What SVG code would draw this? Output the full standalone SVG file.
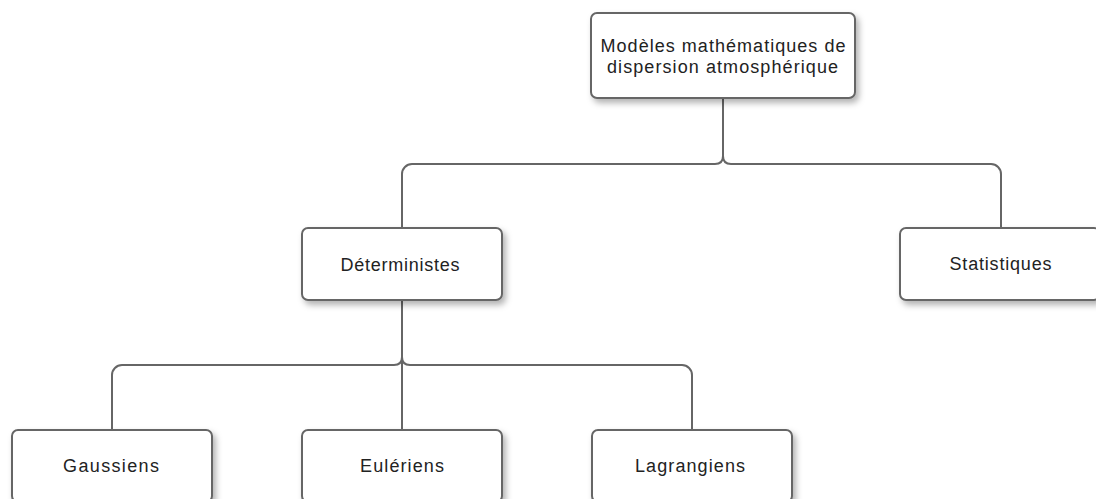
<svg xmlns="http://www.w3.org/2000/svg" width="1096" height="499" viewBox="0 0 1096 499">
<style>
.box{fill:#fff;stroke:#666;stroke-width:2;filter:url(#sh)}
.lbl{font-family:"Liberation Sans",Arial,sans-serif;font-size:18px;fill:#222;text-anchor:middle}
.con{fill:none;stroke:#666;stroke-width:2}
</style>
<defs>
<filter id="sh" x="-20%" y="-20%" width="150%" height="160%">
<feDropShadow dx="3" dy="4" stdDeviation="3" flood-color="#000" flood-opacity="0.3"/>
</filter>
</defs>
<rect width="1096" height="499" fill="#fff"/>
<g id="connectors">
<path class="con" d="M723,98 V156 Q723,164 715,164 H412 A10,10 0 0 0 402,174 V228"/>
<path class="con" d="M723,156 Q723,164 731,164 H991 A10,10 0 0 1 1001,174 V228"/>
<path class="con" d="M402,300 V357 Q402,365 394,365 H122 A10,10 0 0 0 112,375 V430"/>
<path class="con" d="M402,357 Q402,365 410,365 H682 A10,10 0 0 1 692,375 V430"/>
<path class="con" d="M402,357 V430"/>
</g>
<g id="root">
<rect class="box" x="591" y="13" width="264" height="85" rx="6"/>
<text class="lbl" x="723" y="52" textLength="245">Modèles mathématiques de</text>
<text class="lbl" x="722.5" y="73" textLength="231">dispersion atmosphérique</text>
</g>
<g id="deterministes">
<rect class="box" x="302" y="228" width="200" height="72" rx="6"/>
<text class="lbl" x="400" y="271" textLength="119">Déterministes</text>
</g>
<g id="statistiques">
<rect class="box" x="900" y="228" width="200" height="72" rx="6"/>
<text class="lbl" x="1000.5" y="270" textLength="102">Statistiques</text>
</g>
<g id="gaussiens">
<rect class="box" x="12" y="430" width="200" height="72" rx="6"/>
<text class="lbl" x="111" y="472" textLength="96">Gaussiens</text>
</g>
<g id="euleriens">
<rect class="box" x="302" y="430" width="200" height="72" rx="6"/>
<text class="lbl" x="402" y="472" textLength="84">Eulériens</text>
</g>
<g id="lagrangiens">
<rect class="box" x="592" y="430" width="200" height="72" rx="6"/>
<text class="lbl" x="690" y="472" textLength="110">Lagrangiens</text>
</g>
</svg>
